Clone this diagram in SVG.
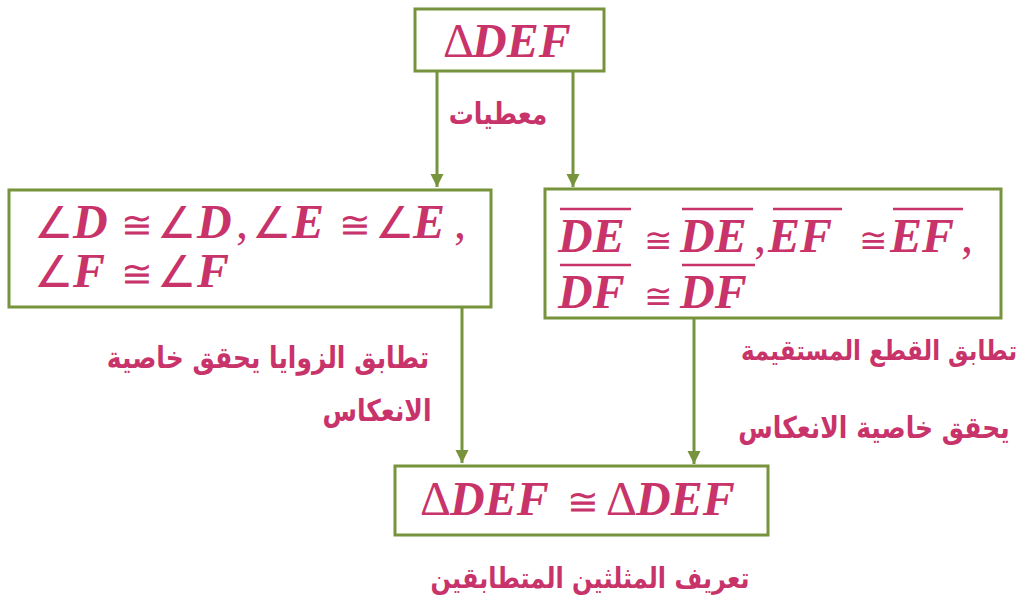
<svg xmlns="http://www.w3.org/2000/svg" width="1017" height="600" viewBox="0 0 1017 600">
<style>
.box{fill:#fff;stroke:#77933C;stroke-width:3}
.m{font-family:"Liberation Serif",serif;font-size:48px;font-weight:bold;font-style:italic;fill:#C8336A}
.r{font-weight:normal;font-style:normal}
.a{font-weight:normal;font-style:normal;font-size:44px}
.eq{font-weight:normal;font-style:normal;font-size:38px}
.eqs{font-weight:normal;font-style:normal;font-size:34px}
.ar{font-family:"DejaVu Sans",sans-serif;font-size:25px;font-weight:bold;fill:#C8336A;text-anchor:middle}
.ol{stroke:#C8336A;stroke-width:2.5}
.c{stroke:#77933C;stroke-width:3;fill:none}
</style>
<defs>
<marker id="ah" viewBox="0 0 10 10" refX="10" refY="5" markerWidth="4.5" markerHeight="4.5" orient="auto" markerUnits="strokeWidth">
<path d="M0,0 L10,5 L0,10 Z" fill="#77933C"/>
</marker>
</defs>
<rect width="1017" height="600" fill="#fff"/>
<g id="connectors">
<line class="c" x1="437" y1="72" x2="437" y2="187" marker-end="url(#ah)"/>
<line class="c" x1="573" y1="72" x2="573" y2="187" marker-end="url(#ah)"/>
<line class="c" x1="462" y1="308" x2="462" y2="463" marker-end="url(#ah)"/>
<line class="c" x1="694" y1="319" x2="694" y2="464" marker-end="url(#ah)"/>
</g>
<g id="node-top">
<rect class="box" x="415" y="9" width="189" height="62"/>
<text class="m" y="57"><tspan class="r" x="443">Δ</tspan><tspan x="472">DEF</tspan></text>
</g>
<g id="label-given">
<text class="ar" transform="translate(498,124) scale(1,1.2)">معطيات</text>
</g>
<g id="node-angles">
<rect class="box" x="9" y="190" width="482" height="117"/>
<text class="m" y="238"><tspan class="a" x="34">∠</tspan><tspan x="73">D</tspan><tspan class="eq" x="121">≅</tspan><tspan class="a" x="157">∠</tspan><tspan x="197">D</tspan><tspan class="r" x="236">,</tspan><tspan class="a" x="252">∠</tspan><tspan x="292">E</tspan><tspan class="eq" x="339">≅</tspan><tspan class="a" x="375">∠</tspan><tspan x="413">E</tspan><tspan class="r" x="454">,</tspan></text>
<text class="m" y="287"><tspan class="a" x="34">∠</tspan><tspan x="73">F</tspan><tspan class="eq" x="121">≅</tspan><tspan class="a" x="157">∠</tspan><tspan x="197">F</tspan></text>
</g>
<g id="node-segments">
<rect class="box" x="545" y="189" width="456" height="129"/>
<text class="m" y="252"><tspan x="558">DE</tspan><tspan class="eqs" x="644">≅</tspan><tspan x="680">DE</tspan><tspan class="r" x="754">,</tspan><tspan x="768">EF</tspan><tspan class="eqs" x="859">≅</tspan><tspan x="890">EF</tspan><tspan class="r" x="961">,</tspan></text>
<text class="m" y="308"><tspan x="558">DF</tspan><tspan class="eqs" x="644">≅</tspan><tspan x="680">DF</tspan></text>
<line class="ol" x1="560" y1="209" x2="631" y2="209"/>
<line class="ol" x1="682" y1="209" x2="753" y2="209"/>
<line class="ol" x1="773" y1="209" x2="842" y2="209"/>
<line class="ol" x1="893" y1="209" x2="963" y2="209"/>
<line class="ol" x1="560" y1="265" x2="631" y2="265"/>
<line class="ol" x1="682" y1="265" x2="755" y2="265"/>
</g>
<g id="label-angles">
<text class="ar" transform="translate(268,368) scale(1,1.2)">تطابق الزوايا يحقق خاصية</text>
<text class="ar" transform="translate(377,421) scale(1,1.2)">الانعكاس</text>
</g>
<g id="label-segments">
<text class="ar" transform="translate(879,360) scale(1,1.2)" style="font-size:23px">تطابق القطع المستقيمة</text>
<text class="ar" transform="translate(874,438) scale(1,1.2)">يحقق خاصية الانعكاس</text>
</g>
<g id="node-bottom">
<rect class="box" x="395" y="466" width="373" height="69"/>
<text class="m" y="515"><tspan class="r" x="420">Δ</tspan><tspan x="450">DEF</tspan><tspan class="eq" x="567">≅</tspan><tspan class="r" x="606">Δ</tspan><tspan x="636">DEF</tspan></text>
</g>
<g id="label-definition">
<text class="ar" transform="translate(590,588) scale(1,1.2)" style="font-size:24px">تعريف المثلثين المتطابقين</text>
</g>
</svg>
